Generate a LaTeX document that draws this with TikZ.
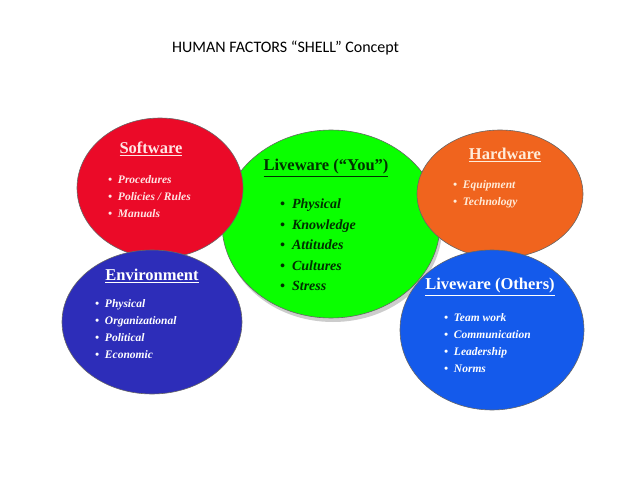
\documentclass[tikz,border=0pt]{standalone}
\usepackage{fontspec}
\setmainfont{Liberation Serif}
\newfontfamily\titlefont{Carlito}
\begin{document}
\begin{tikzpicture}[x=1pt,y=-1pt,
  blob/.style={draw=black!60, line width=0.6pt},
  ttl/.style={font=\bfseries\fontsize{16.5}{18}\selectfont, anchor=center},
  items/.style={font=\bfseries\itshape\fontsize{11.5}{17}\selectfont, align=left, anchor=north west, inner sep=0pt},
  citems/.style={font=\bfseries\itshape\fontsize{14}{20.5}\selectfont, align=left, anchor=north west, inner sep=0pt, text=black!70!green!60!black}]
\useasboundingbox (0,0) rectangle (638,479);
\node[font=\titlefont\fontsize{16}{18}\selectfont, anchor=west, inner sep=0pt] (title) at (172,48) {HUMAN FACTORS “SHELL” Concept};
\fill[gray!40] (333,228) ellipse [x radius=109, y radius=94];
\filldraw[blob, fill=green!95!lime] (331,224) ellipse [x radius=109, y radius=94];
\filldraw[blob, fill={rgb,255:red,235;green,10;blue,40}] (160,188) ellipse [x radius=83, y radius=70];
\filldraw[blob, fill={rgb,255:red,240;green,100;blue,30}] (500,194) ellipse [x radius=83, y radius=64];
\filldraw[blob, fill={rgb,255:red,45;green,45;blue,185}] (152,322) ellipse [x radius=90, y radius=72];
\filldraw[blob, fill={rgb,255:red,20;green,90;blue,235}] (492,330) ellipse [x radius=92, y radius=80];
\node[ttl, text=black!80!green] (lyou) at (326,168) {\underline{Liveware (“You”)}};
\node[citems] (lyoui) at (280,199) {• \ Physical\\• \ Knowledge\\• \ Attitudes\\• \ Cultures\\• \ Stress};
\node[ttl, text=red!10] (sw) at (151,149) {\underline{Software}};
\node[items, text=red!10] (swi) at (108,175) {• \ Procedures\\• \ Policies / Rules\\• \ Manuals};
\node[ttl, text=orange!15] (hw) at (505,155) {\underline{Hardware}};
\node[items, text=orange!15] (hwi) at (453,180) {• \ Equipment\\• \ Technology};
\node[ttl, text=white] (env) at (152,276) {\underline{Environment}};
\node[items, text=white] (envi) at (95,299) {• \ Physical\\• \ Organizational\\• \ Political\\• \ Economic};
\node[ttl, text=white] (lo) at (490,287) {\underline{Liveware (Others)}};
\node[items, text=white] (loi) at (444,313) {• \ Team work\\• \ Communication\\• \ Leadership\\• \ Norms};
\end{tikzpicture}
\end{document}
